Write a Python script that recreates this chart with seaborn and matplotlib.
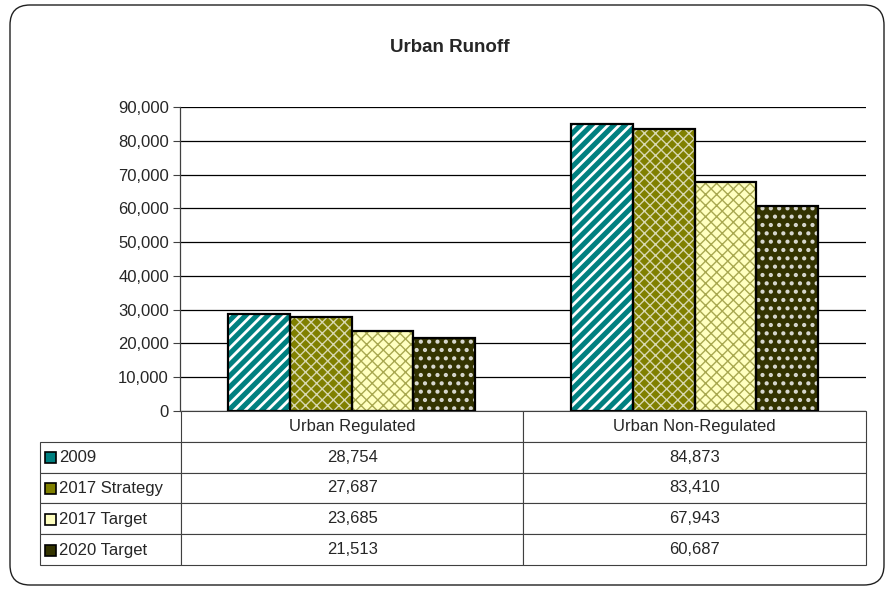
import pandas as pd
import matplotlib.pyplot as plt
import seaborn as sns
from matplotlib.patches import Rectangle, FancyBboxPatch
from matplotlib.ticker import FuncFormatter

categories = ['Urban Regulated', 'Urban Non-Regulated']
series = ['2009', '2017 Strategy', '2017 Target', '2020 Target']
v2009 = [28754, 84873]
v2017_strategy = [27687, 83410]
v2017_target = [23685, 67943]
v2020_target = [21513, 60687]

colors = ['#008080', '#808000', '#ffffc0', '#333300']
hatches = ['///', 'xxx', 'xxx', '..']
hatch_colors = ['#ffffff', '#d8d8b0', '#a8a850', '#d8d8d0']
hatch_widths = [2.0, 1.0, 1.0, 1.8]
FS = 12

rows = []
for s, vals in zip(series, [v2009, v2017_strategy, v2017_target, v2020_target]):
    for c, v in zip(categories, vals):
        rows.append({'Category': c, 'Series': s, 'Value': v})
df = pd.DataFrame(rows)

sns.set_style('white')
plt.rcParams['font.family'] = ['Liberation Sans', 'DejaVu Sans']

fig = plt.figure(figsize=(8.92, 5.91), dpi=100)
ax = fig.add_axes([180/892, 1-411/591, 686/892, 304/591])

sns.barplot(data=df, x='Category', y='Value', hue='Series', hue_order=series,
            order=categories, palette=colors, width=0.723, ax=ax, legend=False,
            saturation=1, errorbar=None)

# one container per series
for i, cont in enumerate(ax.containers):
    for p in cont.patches:
        p.set_hatch(hatches[i])
        p.set_edgecolor(hatch_colors[i])
        p.set_linewidth(0)
        if hasattr(p, 'set_hatch_linewidth'):
            p.set_hatch_linewidth(hatch_widths[i])
        outline = Rectangle(p.get_xy(), p.get_width(), p.get_height(),
                            fill=False, edgecolor='black', linewidth=1.6, zorder=3)
        ax.add_patch(outline)

ax.set_ylim(0, 90000)
ax.set_xlim(-0.5, 1.5)
ax.set_yticks(range(0, 90001, 10000))
ax.yaxis.set_major_formatter(FuncFormatter(lambda v, _: f'{int(v):,}'))
ax.tick_params(axis='y', labelsize=FS, length=5, width=0.8, color='#404040', left=True, pad=3)
ax.set_xticks([])
ax.set_xlabel('')
ax.set_ylabel('')
ax.yaxis.grid(True, color='black', linewidth=0.9)
ax.set_axisbelow(True)
for side in ['top', 'right', 'bottom']:
    ax.spines[side].set_visible(False)
ax.spines['left'].set_color('#404040')
ax.spines['left'].set_linewidth(0.9)

# data table: first column holds series names (drawn separately with swatches)
cell_text = [[''] + [f'{v:,}' for v in vals]
             for vals in [v2009, v2017_strategy, v2017_target, v2020_target]]
tbl = ax.table(cellText=cell_text, colLabels=[''] + categories,
               cellLoc='center', bbox=[(40-180)/686, -154/304, 826/686, 154/304])
tbl.auto_set_font_size(False)
tbl.set_fontsize(FS)
for (r, c), cell in tbl.get_celld().items():
    cell.set_edgecolor('#404040')
    cell.set_linewidth(0.8)
    cell.set_width(141 if c == 0 else 343)
    if r == 0 and c == 0:
        cell.visible_edges = 'open'

# row labels with swatches
for i, s in enumerate(series):
    yc = 1 - (442 + 31*i + 15.5) / 591
    fig.text(59/892, yc, s, fontsize=FS, va='center', ha='left')
    sw = Rectangle((45/892, yc - 5.5/591), 11/892, 11/591, transform=fig.transFigure,
                   facecolor=colors[i], edgecolor='black', linewidth=1.2)
    fig.patches.append(sw)

fig.text(450/892, 1-47/591, 'Urban Runoff', fontsize=13.5, fontweight='bold',
         ha='center', va='center')

border = FancyBboxPatch((0.10, 0.06), 8.74, 5.80, boxstyle='round,pad=0,rounding_size=0.2',
                        transform=fig.dpi_scale_trans, fill=False,
                        edgecolor='#202020', linewidth=1)
fig.patches.append(border)

fig.savefig('out.png', dpi=100)
